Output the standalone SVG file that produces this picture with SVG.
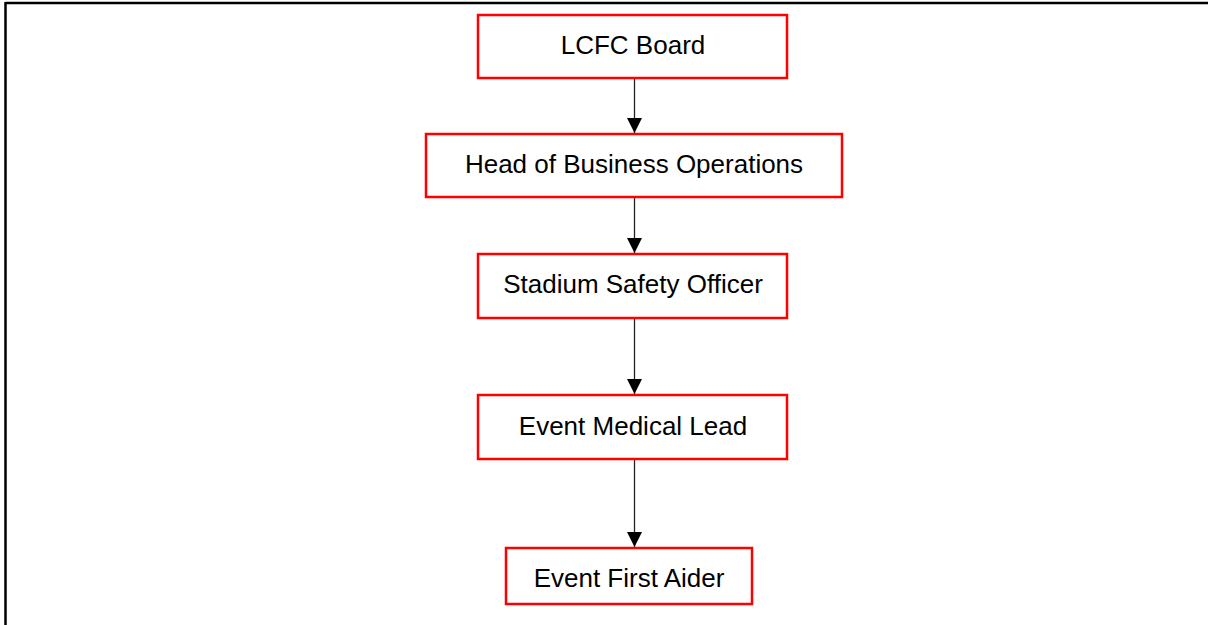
<svg xmlns="http://www.w3.org/2000/svg" width="1208" height="625" viewBox="0 0 1208 625">
<style>
.box{fill:#fff;stroke:#ff0000;stroke-width:2.5}
.lbl{font-family:"Liberation Sans",Arial,sans-serif;font-size:26px;fill:#000;text-anchor:middle}
.conn{stroke:#222;stroke-width:1.3;fill:none}
.frame{stroke:#000;stroke-width:2.5;fill:none}
</style>
<defs>
<marker id="arr" viewBox="0 0 15 15" refX="15" refY="7.5" markerWidth="15" markerHeight="15" markerUnits="userSpaceOnUse" orient="auto">
<path d="M0,0 L15,7.5 L0,15 Z" fill="#000"/>
</marker>
</defs>
<rect width="1208" height="625" fill="#fff"/>
<g id="frame">
<line class="frame" x1="5.5" y1="3" x2="1208" y2="3"/>
<line class="frame" x1="5.5" y1="2" x2="5.5" y2="625"/>
</g>
<g id="connectors">
<line class="conn" x1="634.5" y1="79" x2="634.5" y2="133" marker-end="url(#arr)"/>
<line class="conn" x1="634.5" y1="198" x2="634.5" y2="253" marker-end="url(#arr)"/>
<line class="conn" x1="634.5" y1="319" x2="634.5" y2="394" marker-end="url(#arr)"/>
<line class="conn" x1="634.5" y1="460" x2="634.5" y2="547" marker-end="url(#arr)"/>
</g>
<g id="n1"><rect class="box" x="478" y="15" width="309" height="63"/><text class="lbl" x="633" y="54">LCFC Board</text></g>
<g id="n2"><rect class="box" x="426" y="134" width="416" height="63"/><text class="lbl" x="634" y="173">Head of Business Operations</text></g>
<g id="n3"><rect class="box" x="478" y="254" width="309" height="64"/><text class="lbl" x="633" y="293">Stadium Safety Officer</text></g>
<g id="n4"><rect class="box" x="478" y="395" width="309" height="64"/><text class="lbl" x="633" y="435">Event Medical Lead</text></g>
<g id="n5"><rect class="box" x="506" y="548" width="246" height="56"/><text class="lbl" x="629" y="587">Event First Aider</text></g>
</svg>
